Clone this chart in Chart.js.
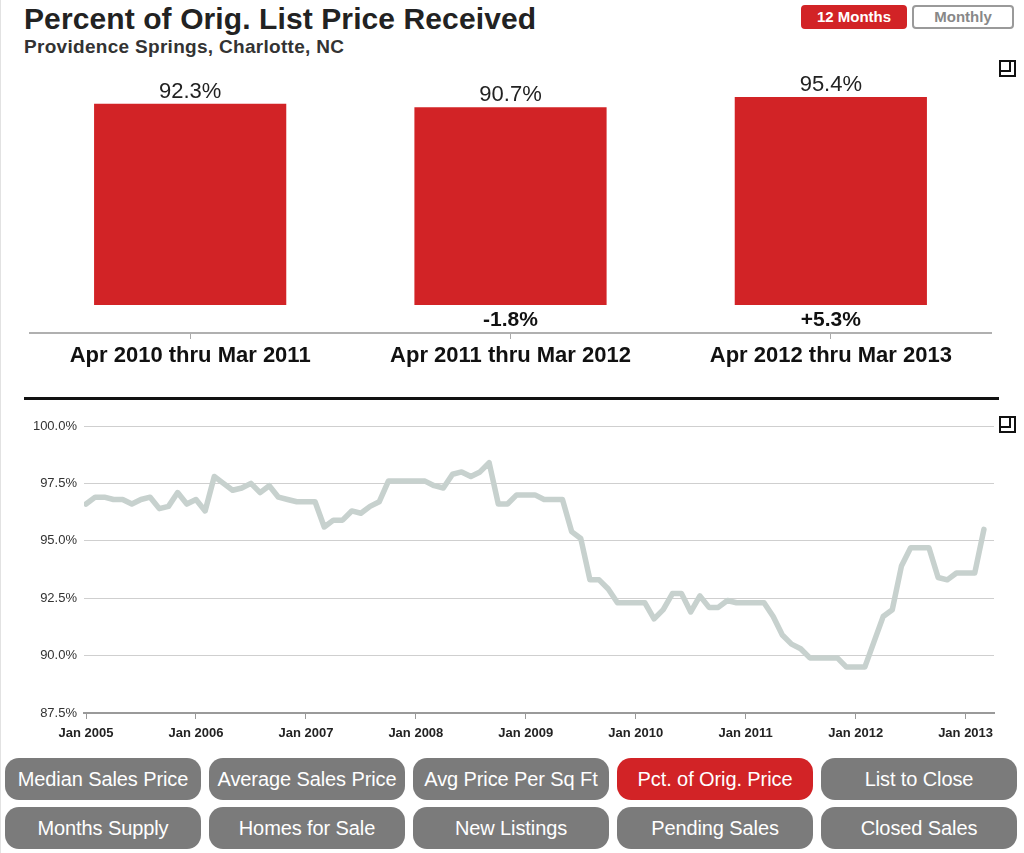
<!DOCTYPE html>
<html>
<head>
<meta charset="utf-8">
<script src="https://cdn.jsdelivr.net/npm/chart.js@4.4.1/dist/chart.umd.min.js"></script>
<style>
  html, body { margin: 0; padding: 0; background: #fff; }
  body { width: 1024px; height: 853px; position: relative; overflow: hidden;
         font-family: "Liberation Sans", Arial, Helvetica, sans-serif; color: #222; }
  .frame { position: absolute; left: 0; top: 0; width: 1px; height: 853px; background: #e2e2e2; }
  #title { position: absolute; left: 24px; top: 2px; font-size: 30px; font-weight: bold; color: #222; letter-spacing: 0.1px; }
  #subtitle { position: absolute; left: 24px; top: 36px; font-size: 19px; font-weight: bold; color: #333; letter-spacing: 0.3px; }
  .tog { position: absolute; top: 5px; height: 24px; box-sizing: border-box; border-radius: 4px;
         font-size: 15px; font-weight: bold; text-align: center; line-height: 20px; }
  #t12 { left: 801px; width: 106px; background: #d22326; color: #fff; border: 2px solid #d22326; }
  #tmo { left: 912px; width: 102px; background: #fff; color: #888; border: 2px solid #9a9a9a; }
  .icon { position: absolute; width: 17px; height: 17px; box-sizing: border-box; border: 2px solid #111; }
  .icon::after { content: ""; position: absolute; left: 0; top: 0; width: 8px; height: 8px;
                 border-right: 2px solid #111; border-bottom: 2px solid #111; }
  #sep { position: absolute; left: 24px; top: 397px; width: 975px; height: 3px; background: #111; }
  #barWrap { position: absolute; left: 0; top: 60px; width: 1024px; height: 330px; }
  #lineWrap { position: absolute; left: 0; top: 405px; width: 1024px; height: 340px; }
  .btn { position: absolute; width: 196px; height: 42px; border-radius: 14px; background: #7b7b7b;
         color: #fff; font-size: 20px; text-align: center; line-height: 42px; letter-spacing: -0.1px; }
  .btn.on { background: #d22326; }
</style>
</head>
<body>
<div class="frame"></div>
<div id="title">Percent of Orig. List Price Received</div>
<div id="subtitle">Providence Springs, Charlotte, NC</div>
<div class="tog" id="t12">12 Months</div>
<div class="tog" id="tmo">Monthly</div>
<div class="icon" style="left:999px; top:60px;"></div>
<div id="barWrap"><canvas id="barChart"></canvas></div>
<div id="sep"></div>
<div class="icon" style="left:999px; top:416px;"></div>
<div id="lineWrap"><canvas id="lineChart"></canvas></div>
<div id="buttons"></div>

<script>
// ---------- data ----------
const periods = ['Apr 2010 thru Mar 2011', 'Apr 2011 thru Mar 2012', 'Apr 2012 thru Mar 2013'];
const periodValues = [92.3, 90.7, 95.4];
const periodChanges = ['', '-1.8%', '+5.3%'];

// monthly series Jan 2005 .. Mar 2013 (percent of original list price received)
const pctValues = [
  96.6, 96.9, 96.9, 96.8, 96.8, 96.6, 96.8, 96.9, 96.4, 96.5, 97.1, 96.6,   // 2005
  96.8, 96.3, 97.8, 97.5, 97.2, 97.3, 97.5, 97.1, 97.4, 96.9, 96.8, 96.7,   // 2006
  96.7, 96.7, 95.6, 95.9, 95.9, 96.3, 96.2, 96.5, 96.7, 97.6, 97.6, 97.6,   // 2007
  97.6, 97.6, 97.4, 97.3, 97.9, 98.0, 97.8, 98.0, 98.4, 96.6, 96.6, 97.0,   // 2008
  97.0, 97.0, 96.8, 96.8, 96.8, 95.4, 95.1, 93.3, 93.3, 92.9, 92.3, 92.3,   // 2009
  92.3, 92.3, 91.6, 92.0, 92.7, 92.7, 91.9, 92.6, 92.1, 92.1, 92.4, 92.3,   // 2010
  92.3, 92.3, 92.3, 91.7, 90.9, 90.5, 90.3, 89.9, 89.9, 89.9, 89.9, 89.5,   // 2011
  89.5, 89.5, 90.6, 91.7, 92.0, 93.9, 94.7, 94.7, 94.7, 93.4, 93.3, 93.6,   // 2012
  93.6, 93.6, 95.5                                                          // 2013
];
const xTickLabels = ['Jan 2005', 'Jan 2006', 'Jan 2007', 'Jan 2008', 'Jan 2009',
                     'Jan 2010', 'Jan 2011', 'Jan 2012', 'Jan 2013'];
const yTickValues = [87.5, 90.0, 92.5, 95.0, 97.5, 100.0];

const buttonLabels = ['Median Sales Price', 'Average Sales Price', 'Avg Price Per Sq Ft', 'Pct. of Orig. Price', 'List to Close',
                      'Months Supply', 'Homes for Sale', 'New Listings', 'Pending Sales', 'Closed Sales'];
const activeButton = 'Pct. of Orig. Price';

// ---------- buttons ----------
(function () {
  const wrap = document.getElementById('buttons');
  const lefts = [5, 209, 413, 617, 821];
  const tops = [758, 807];
  buttonLabels.forEach((t, i) => {
    const d = document.createElement('div');
    d.className = 'btn' + (t === activeButton ? ' on' : '');
    d.style.left = lefts[i % 5] + 'px';
    d.style.top = tops[Math.floor(i / 5)] + 'px';
    d.textContent = t;
    wrap.appendChild(d);
  });
})();

const FONT = '"Liberation Sans", Arial, Helvetica, sans-serif';

// ---------- top bar chart ----------
const barLabelsPlugin = {
  id: 'barLabels',
  afterDatasetsDraw(chart) {
    const ctx = chart.ctx;
    const meta = chart.getDatasetMeta(0);
    ctx.save();
    ctx.textAlign = 'center';
    ctx.textBaseline = 'middle';
    meta.data.forEach((bar, i) => {
      ctx.fillStyle = '#222';
      ctx.font = '22px ' + FONT;
      ctx.fillText(periodValues[i].toFixed(1) + '%', bar.x, bar.y - 12);
      if (periodChanges[i]) {
        ctx.font = 'bold 21px ' + FONT;
        ctx.fillStyle = '#111';
        ctx.fillText(periodChanges[i], bar.x, bar.base + 15);
      }
    });
    ctx.restore();
  }
};

new Chart(document.getElementById('barChart'), {
  type: 'bar',
  data: {
    labels: periods,
    datasets: [{
      data: periodValues,
      backgroundColor: '#d22326',
      borderWidth: 0,
      barPercentage: 1,
      categoryPercentage: 0.6
    }]
  },
  options: {
    responsive: true,
    maintainAspectRatio: false,
    animation: false,
    layout: { padding: { left: 30, right: 33, top: 0, bottom: 0 } },
    plugins: { legend: { display: false }, tooltip: { enabled: false } },
    scales: {
      x: {
        grid: { display: true, drawOnChartArea: false, drawTicks: true, tickLength: 6, offset: false, color: '#aaa', lineWidth: 1 },
        border: { display: true, color: '#b0b0b0', width: 2 },
        ticks: { color: '#111', font: { family: FONT, size: 22, weight: 'bold' }, padding: 4, maxRotation: 0 },
        afterFit(scale) { scale.height = 57; }
      },
      y: {
        display: false,
        min: -12.8,
        max: 112.4
      }
    }
  },
  plugins: [barLabelsPlugin]
});

// ---------- bottom line chart ----------
new Chart(document.getElementById('lineChart'), {
  type: 'line',
  data: {
    datasets: [{
      data: pctValues.map((v, i) => ({ x: i, y: v })),
      borderColor: '#c7d1ce',
      borderWidth: 5.5,
      pointRadius: 0,
      tension: 0,
      borderJoinStyle: 'round',
      borderCapStyle: 'round',
      fill: false
    }]
  },
  options: {
    responsive: true,
    maintainAspectRatio: false,
    animation: false,
    layout: { padding: { left: 0, right: 30, top: 21, bottom: 0 } },
    plugins: { legend: { display: false }, tooltip: { enabled: false } },
    scales: {
      x: {
        type: 'linear',
        min: -0.22,
        max: 99.1,
        afterBuildTicks(scale) { scale.ticks = xTickLabels.map((_, k) => ({ value: k * 12 })); },
        grid: { display: true, drawOnChartArea: false, drawTicks: true, tickLength: 6, color: '#999', lineWidth: 1 },
        border: { display: true, color: '#9a9a9a', width: 2 },
        ticks: {
          color: '#222',
          font: { family: FONT, size: 13, weight: 'bold' },
          padding: 7,
          maxRotation: 0,
          autoSkip: false,
          callback: (v) => xTickLabels[Math.round(v / 12)]
        },
        afterFit(scale) { scale.height = 32; }
      },
      y: {
        min: 87.5,
        max: 100,
        afterBuildTicks(scale) { scale.ticks = yTickValues.map(v => ({ value: v })); },
        grid: { color: '#cfcfcf', lineWidth: 1, drawTicks: false },
        border: { display: false },
        ticks: {
          color: '#333',
          font: { family: FONT, size: 13 },
          padding: 7,
          callback: (v) => Number(v).toFixed(1) + '%'
        },
        afterFit(scale) { scale.width = 84; }
      }
    }
  }
});
</script>
</body>
</html>
